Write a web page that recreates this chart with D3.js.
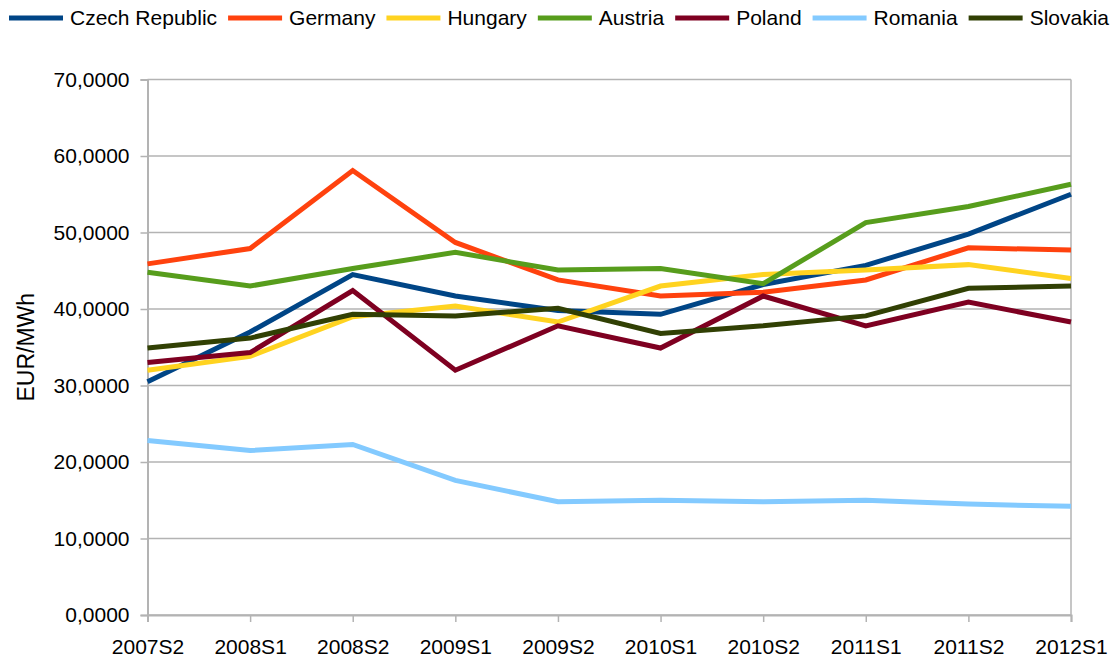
<!DOCTYPE html>
<html>
<head>
<meta charset="utf-8">
<script src="https://cdn.jsdelivr.net/npm/d3@7"></script>
<style>
  body { margin: 0; background: #fff; }
  text { font-family: "Liberation Sans", Arial, sans-serif; fill: #000; }
</style>
</head>
<body>
<div id="chart"></div>
<script>
// half-year periods
const periods = ["2007S2", "2008S1", "2008S2", "2009S1", "2009S2", "2010S1", "2010S2", "2011S1", "2011S2", "2012S1"];
const countries = ["Czech Republic", "Germany", "Hungary", "Austria", "Poland", "Romania", "Slovakia"];
const colors = ["#004586", "#ff420e", "#ffd320", "#579d1c", "#7e0021", "#83caff", "#314004"];

const czech    = [30.5, 37.0, 44.5, 41.7, 39.8, 39.3, 43.2, 45.7, 49.8, 55.0];
const germany  = [45.9, 47.9, 58.1, 48.7, 43.8, 41.7, 42.2, 43.8, 48.0, 47.7];
const hungary  = [32.0, 33.8, 39.0, 40.4, 38.3, 43.0, 44.5, 45.1, 45.8, 44.0];
const austria  = [44.8, 43.0, 45.3, 47.4, 45.1, 45.3, 43.3, 51.3, 53.4, 56.3];
const poland   = [33.0, 34.3, 42.4, 32.0, 37.8, 34.9, 41.7, 37.8, 40.9, 38.3];
const romania  = [22.8, 21.5, 22.3, 17.6, 14.8, 15.0, 14.8, 15.0, 14.5, 14.2];
const slovakia = [34.9, 36.2, 39.3, 39.1, 40.1, 36.8, 37.8, 39.1, 42.7, 43.0];

const yTicks = [0, 10, 20, 30, 40, 50, 60, 70];

const seriesValues = [czech, germany, hungary, austria, poland, romania, slovakia];
const series = countries.map((name, i) => ({
  name: name,
  color: colors[i],
  values: seriesValues[i].map((v, j) => ({ period: periods[j], value: v }))
}));

const W = 1113, H = 662;
const margin = { top: 79.5, right: 42, bottom: 47, left: 147.5 };
const width = W - margin.left - margin.right;
const height = H - margin.top - margin.bottom;

const svg = d3.select("#chart").append("svg")
  .attr("width", W)
  .attr("height", H);

const g = svg.append("g")
  .attr("transform", `translate(${margin.left},${margin.top})`);

const x = d3.scalePoint().domain(periods).range([0, width]).padding(0);
const y = d3.scaleLinear().domain([0, 70]).range([height, 0]);

const locale = d3.formatLocale({ decimal: ",", thousands: ".", grouping: [3], currency: ["", ""] });
const fmt = locale.format(".4f");

// gridlines
g.append("g")
  .selectAll("line")
  .data(yTicks)
  .enter().append("line")
  .attr("x1", 0).attr("x2", width)
  .attr("y1", d => y(d)).attr("y2", d => y(d))
  .attr("stroke", "#b3b3b3")
  .attr("stroke-width", 1.5);

// right border
g.append("line")
  .attr("x1", width).attr("x2", width)
  .attr("y1", 0).attr("y2", height)
  .attr("stroke", "#b3b3b3")
  .attr("stroke-width", 1.5);

// y axis
const yAxis = g.append("g")
  .call(d3.axisLeft(y).tickValues(yTicks).tickFormat(fmt).tickSize(7).tickPadding(11));
yAxis.select(".domain").attr("stroke", "#b3b3b3").attr("stroke-width", 2);
yAxis.selectAll(".tick line").attr("stroke", "#b3b3b3").attr("stroke-width", 1.5);
yAxis.selectAll("text").style("font-size", "21px").attr("fill", "#000")
  .attr("font-family", "Liberation Sans, Arial, sans-serif");

// x axis
const xAxis = g.append("g")
  .attr("transform", `translate(0,${height})`)
  .call(d3.axisBottom(x).tickSize(7).tickPadding(17));
xAxis.select(".domain").attr("stroke", "#b3b3b3").attr("stroke-width", 2);
xAxis.selectAll(".tick line").attr("stroke", "#b3b3b3").attr("stroke-width", 1.5);
xAxis.selectAll("text").style("font-size", "21px").attr("fill", "#000")
  .attr("font-family", "Liberation Sans, Arial, sans-serif");

// lines
const line = d3.line()
  .x(d => x(d.period))
  .y(d => y(d.value));

g.selectAll(".series")
  .data(series)
  .enter().append("path")
  .attr("class", "series")
  .attr("fill", "none")
  .attr("stroke", d => d.color)
  .attr("stroke-width", 5)
  .attr("stroke-linejoin", "miter")
  .attr("d", d => line(d.values));

// y label
svg.append("text")
  .attr("transform", `translate(34,${margin.top + height / 2}) rotate(-90)`)
  .style("text-anchor", "middle")
  .style("font-size", "23px")
  .text("EUR/MWh");

// legend
const legend = svg.append("g").attr("transform", "translate(0,18)");
let lx = 9;
series.forEach(s => {
  const item = legend.append("g");
  item.append("line")
    .attr("x1", lx).attr("x2", lx + 54)
    .attr("y1", 0).attr("y2", 0)
    .attr("stroke", s.color)
    .attr("stroke-width", 5);
  const t = item.append("text")
    .attr("x", lx + 61)
    .attr("y", 0)
    .attr("dy", "0.35em")
    .style("font-size", "21px")
    .text(s.name);
  lx += 61 + t.node().getComputedTextLength() + 11;
});
</script>
</body>
</html>
